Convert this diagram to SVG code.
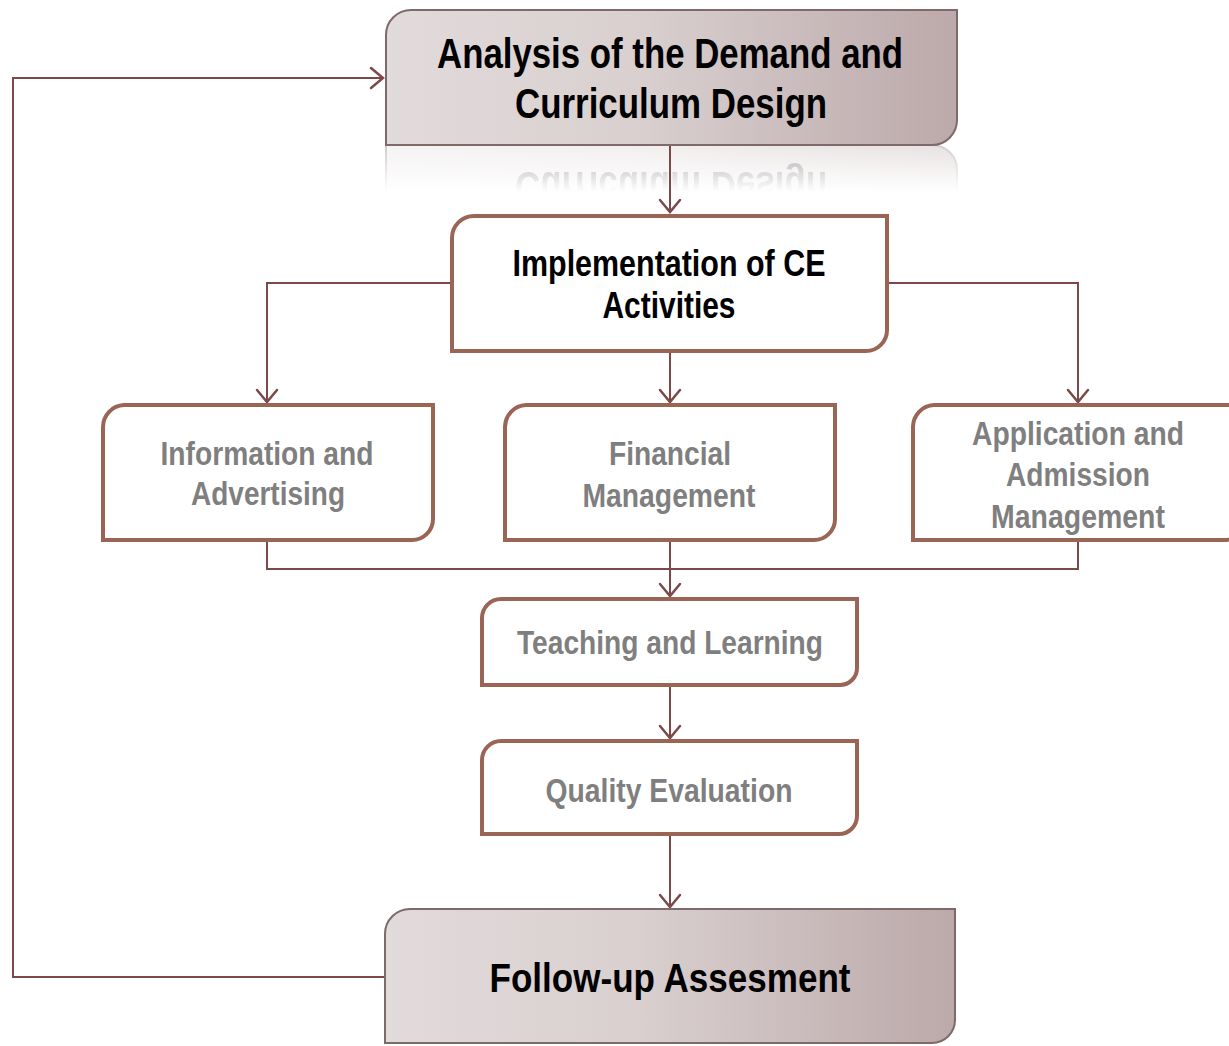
<svg xmlns="http://www.w3.org/2000/svg" width="1229" height="1046" viewBox="0 0 1229 1046">
<style>
.box{fill:#fff;stroke:#9a6554;stroke-width:4}
.gbox{fill:url(#grad);stroke:#7f6a6a;stroke-width:2}
.con{fill:none;stroke:#7d4848;stroke-width:2}
.t{font-family:"Liberation Sans",Arial,sans-serif;font-weight:bold;text-anchor:middle}
.gray{fill:#7f7f7f;font-size:34px}
.blk{fill:#000}
</style>
<defs>
<linearGradient id="grad" x1="0" y1="0" x2="1" y2="0">
<stop offset="0" stop-color="#e2dbdb"/>
<stop offset="0.45" stop-color="#d9cfcf"/>
<stop offset="1" stop-color="#bca9aa"/>
</linearGradient>
<linearGradient id="fade" x1="0" y1="145" x2="0" y2="192" gradientUnits="userSpaceOnUse">
<stop offset="0" stop-color="#fff" stop-opacity="0.35"/>
<stop offset="1" stop-color="#fff" stop-opacity="0"/>
</linearGradient>
<mask id="rmask" maskUnits="userSpaceOnUse" x="0" y="145" width="1229" height="50">
<rect x="0" y="145" width="1229" height="50" fill="url(#fade)"/>
</mask>
<marker id="arr" viewBox="0 0 24 24" refX="22" refY="12" markerWidth="24" markerHeight="24" markerUnits="userSpaceOnUse" orient="auto">
<path d="M10,2 L22,12 L10,22" fill="none" stroke="#7d4848" stroke-width="2.5" stroke-linecap="round"/>
</marker>
</defs>

<g id="reflection" mask="url(#rmask)">
<g transform="translate(0,290) scale(1,-1)">
<path class="gbox" d="M411,10 H957 V120 A25,25 0 0 1 932,145 H386 V35 A25,25 0 0 1 411,10 Z"/>
<text class="t blk" x="671" y="118" font-size="42" textLength="312" lengthAdjust="spacingAndGlyphs">Curriculum Design</text>
</g>
</g>

<g id="connectors">
<path class="con" d="M670,146 V212" marker-end="url(#arr)"/>
<path class="con" d="M452,283 H267 V402" marker-end="url(#arr)"/>
<path class="con" d="M888,283 H1078 V402" marker-end="url(#arr)"/>
<path class="con" d="M670,352 V402" marker-end="url(#arr)"/>
<path class="con" d="M267,541 V569 H1078 V541"/>
<path class="con" d="M670,541 V596" marker-end="url(#arr)"/>
<path class="con" d="M670,686 V738" marker-end="url(#arr)"/>
<path class="con" d="M670,835 V907" marker-end="url(#arr)"/>
<path class="con" d="M385,977 H13 V78 H383" marker-end="url(#arr)"/>
</g>

<g id="analysis">
<path class="gbox" d="M411,10 H957 V120 A25,25 0 0 1 932,145 H386 V35 A25,25 0 0 1 411,10 Z"/>
<text class="t blk" x="670" y="68" font-size="42" textLength="466" lengthAdjust="spacingAndGlyphs">Analysis of the Demand and</text>
<text class="t blk" x="671" y="118" font-size="42" textLength="312" lengthAdjust="spacingAndGlyphs">Curriculum Design</text>
</g>

<g id="implementation">
<path class="box" d="M474,216 H887 V330 A21,21 0 0 1 866,351 H452 V238 A22,22 0 0 1 474,216 Z"/>
<text class="t blk" x="669" y="276" font-size="36" textLength="313" lengthAdjust="spacingAndGlyphs">Implementation of CE</text>
<text class="t blk" x="669" y="318" font-size="36" textLength="133" lengthAdjust="spacingAndGlyphs">Activities</text>
</g>

<g id="information">
<path class="box" d="M124,405 H433 V519 A21,21 0 0 1 412,540 H103 V427 A22,22 0 0 1 124,405 Z"/>
<text class="t gray" x="267" y="465" textLength="213" lengthAdjust="spacingAndGlyphs">Information and</text>
<text class="t gray" x="268" y="505" textLength="154" lengthAdjust="spacingAndGlyphs">Advertising</text>
</g>

<g id="financial">
<path class="box" d="M526,405 H835 V519 A21,21 0 0 1 814,540 H505 V427 A22,22 0 0 1 526,405 Z"/>
<text class="t gray" x="670" y="465" textLength="122" lengthAdjust="spacingAndGlyphs">Financial</text>
<text class="t gray" x="669" y="507" textLength="173" lengthAdjust="spacingAndGlyphs">Management</text>
</g>

<g id="application">
<path class="box" d="M934,405 H1245 V519 A21,21 0 0 1 1224,540 H913 V427 A22,22 0 0 1 934,405 Z"/>
<text class="t gray" x="1078" y="445" textLength="212" lengthAdjust="spacingAndGlyphs">Application and</text>
<text class="t gray" x="1078" y="486" textLength="144" lengthAdjust="spacingAndGlyphs">Admission</text>
<text class="t gray" x="1078" y="528" textLength="174" lengthAdjust="spacingAndGlyphs">Management</text>
</g>

<g id="teaching">
<path class="box" d="M501,599 H857 V668 A17,17 0 0 1 840,685 H482 V618 A19,19 0 0 1 501,599 Z"/>
<text class="t gray" x="670" y="654" textLength="306" lengthAdjust="spacingAndGlyphs">Teaching and Learning</text>
</g>

<g id="quality">
<path class="box" d="M501,741 H857 V816 A18,18 0 0 1 839,834 H482 V760 A19,19 0 0 1 501,741 Z"/>
<text class="t gray" x="669" y="802" textLength="247" lengthAdjust="spacingAndGlyphs">Quality Evaluation</text>
</g>

<g id="followup">
<path class="gbox" d="M410,909 H955 V1020 A23,23 0 0 1 932,1043 H385 V934 A25,25 0 0 1 410,909 Z"/>
<text class="t blk" x="670" y="992" font-size="40" textLength="361" lengthAdjust="spacingAndGlyphs">Follow-up Assesment</text>
</g>
</svg>
